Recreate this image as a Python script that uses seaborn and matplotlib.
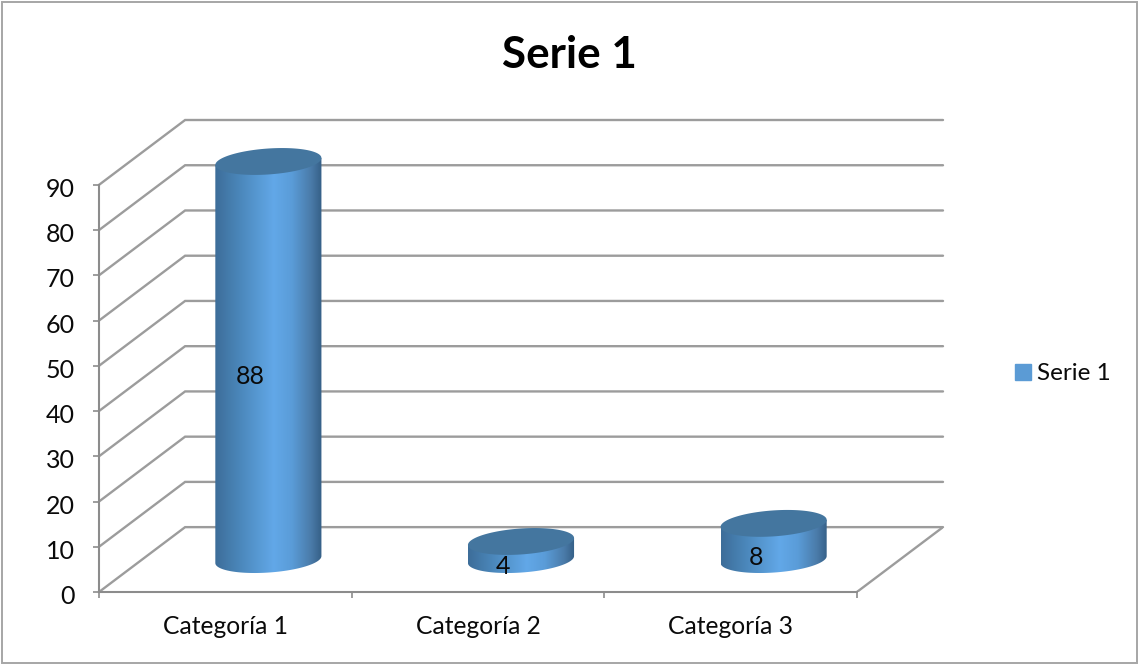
import numpy as np
import pandas as pd
import matplotlib
matplotlib.use("Agg")
import matplotlib.pyplot as plt
import seaborn as sns
from matplotlib.colors import LinearSegmentedColormap
from matplotlib.patches import Patch, PathPatch, Polygon, Rectangle
from matplotlib.path import Path
from matplotlib.transforms import ScaledTranslation

# Chart values
categories = ["Categoría 1", "Categoría 2", "Categoría 3"]
values = [88, 4, 8]
series_name = "Serie 1"
y_ticks = [0, 10, 20, 30, 40, 50, 60, 70, 80, 90]

W, H = 1138, 664
GRID = "#9c9c9c"
AXIS = "#8c8c8c"
TEXT = "#0a0a0a"

sns.set_theme(style="white")
plt.rcParams["font.family"] = ["Lato", "DejaVu Sans"]

fig = plt.figure(figsize=(W / 100, H / 100), dpi=100)

# Axes run from the front left floor corner to the back right top corner
ax = fig.add_axes([99 / W, 1 - 592 / H, (943 - 99) / W, (592 - 120) / H])

# The 3d look: back wall is shifted by this much from the front plane
depth_x = 86 / (757 / 3)
depth_y = 65 / (408 / 90)

df = pd.DataFrame({"category": categories, "value": values})
sns.barplot(data=df, x="category", y="value", color="#5b9bd5", width=0.42, ax=ax)

ax.set_xlim(-0.5, 2.5 + depth_x)
ax.set_ylim(0, y_ticks[-1] + depth_y)
ax.set_xlabel("")
ax.set_ylabel("")

# Back wall gridlines and side wall diagonals
for t in y_ticks:
    ax.plot([-0.5, -0.5 + depth_x, 2.5 + depth_x], [t, t + depth_y, t + depth_y],
            color=GRID, lw=1.7, zorder=1, solid_joinstyle="miter", clip_on=False)
ax.plot([2.5, 2.5 + depth_x], [0, depth_y], color=GRID, lw=1.7, zorder=1)

# Cylinders, built on the rectangles seaborn drew
body_cmap = LinearSegmentedColormap.from_list(
    "cyl",
    [(0, "#3d6d99"), (0.22, "#4a86b9"), (0.55, "#62a8e8"), (0.72, "#5a9cd8"),
     (0.9, "#4a7ba9"), (1, "#355f86")],
)
ell_b = 2.87
ell_s = 0.77
for bar, val in zip(list(ax.patches), values):
    left = bar.get_x() + depth_x / 2
    w = bar.get_width()
    bottom = depth_y / 2
    top = bottom + val
    bar.set_visible(False)

    cx = left + w / 2
    t = np.linspace(np.pi, 2 * np.pi, 60)
    lower_x = cx + w / 2 * np.cos(t)
    lower_y = bottom + ell_b * np.sin(t) + ell_s * np.cos(t)
    body = np.column_stack([
        np.r_[left, lower_x, left + w],
        np.r_[top - ell_s, lower_y, top + ell_s],
    ])
    clip = Polygon(body, closed=True, transform=ax.transData, fc="none", ec="none")
    ax.add_patch(clip)
    im = ax.imshow(np.linspace(0, 1, 256).reshape(1, -1), cmap=body_cmap, aspect="auto",
                   extent=[left, left + w, bottom - ell_b - 1, top + ell_s + 1], zorder=3)
    im.set_clip_path(clip)

    t = np.linspace(0, 2 * np.pi, 120)
    cap = np.column_stack([
        cx + w / 2 * np.cos(t),
        top + ell_b * np.sin(t) + ell_s * np.cos(t),
    ])
    ax.add_patch(PathPatch(Path(cap), fc="#44769f", ec="none", zorder=4))

ax.set_xlim(-0.5, 2.5 + depth_x)
ax.set_ylim(0, y_ticks[-1] + depth_y)

# Data labels
for i, val in enumerate(values):
    ax.text(i + depth_x / 2 - 18 / (757 / 3), val / 2 + 3.7, str(val), ha="center", va="center",
            fontsize=18, color=TEXT, zorder=5)

# Axes lines, ticks
for side in ["top", "right"]:
    ax.spines[side].set_visible(False)
for side in ["left", "bottom"]:
    ax.spines[side].set_color(AXIS)
    ax.spines[side].set_linewidth(1.5)
ax.spines["left"].set_bounds(0, y_ticks[-1])
ax.spines["bottom"].set_bounds(-0.5, 2.5)
ax.set_yticks(y_ticks)
ax.set_xticks([-0.5, 0.5, 1.5, 2.5])
ax.set_xticklabels([])
ax.set_xticks([0, 1, 2], labels=categories, minor=True)
ax.tick_params(axis="both", which="major", length=4.5, width=1.2, color=AXIS, left=True, bottom=True)
ax.tick_params(axis="y", labelsize=18, labelcolor=TEXT, pad=13)
ax.tick_params(axis="x", which="minor", length=0, labelsize=17.7, labelcolor=TEXT, pad=16.5)
# nudge the y labels down a little
for lab in ax.get_yticklabels():
    lab.set_transform(lab.get_transform() + ScaledTranslation(0, -2.5 / 100, fig.dpi_scale_trans))
ax.patch.set_alpha(0)

fig.text(569 / W, 1 - 55 / H, series_name, ha="center", va="center",
         fontsize=31.7, fontweight="bold", color="#000000")

fig.legend(handles=[Patch(color="#5b9bd5", label=series_name)], loc="center left",
           bbox_to_anchor=(1013 / W, 1 - 374 / H), frameon=False, fontsize=17.5,
           handlelength=0.62, handleheight=0.62, handletextpad=0.25, labelcolor=TEXT,
           borderpad=0.1, borderaxespad=0)

# Chart frame
fig.add_artist(Rectangle((1.5 / W, 1.5 / H), (W - 3) / W, (H - 3) / H, transform=fig.transFigure,
                         fc="none", ec="#a6a6a6", lw=1.4))

plt.savefig("out.png", dpi=100)
